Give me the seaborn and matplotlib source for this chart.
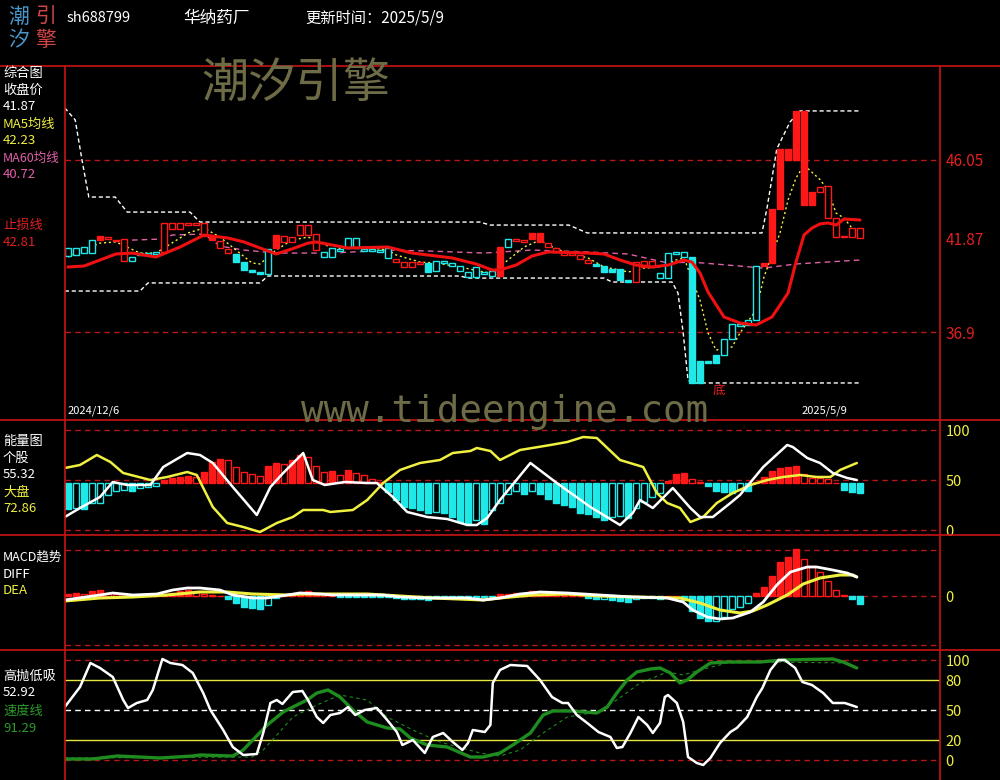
"""
华纳药厂 sh688799 - 潮汐引擎 综合图
"""

import matplotlib
matplotlib.use("Agg")
import numpy as np
import matplotlib.pyplot as plt
import seaborn as sns

sns.set_theme(style="dark", rc={"axes.facecolor": "black", "figure.facecolor": "black"})
plt.rcParams["font.family"] = ["Noto Sans CJK SC", "DejaVu Sans"]
plt.rcParams["axes.unicode_minus"] = False

# ---------------------------------------------
# Data
# ---------------------------------------------

stock_code = "sh688799"
stock_name = "华纳药厂"
update_time = "更新时间：2025/5/9"
first_date = "2024/12/6"
last_date = "2025/5/9"

open_px = [
    40.94, 41.00, 41.10, 41.10, 42.01, 41.85, 41.74, 40.68, 40.68, 41.00,
    41.00, 41.05, 41.16, 42.38, 42.38, 42.59, 42.59, 42.01, 41.95, 41.37,
    41.10, 41.05, 40.62, 40.20, 40.09, 39.98, 42.06, 41.69, 41.69, 42.06,
    42.06, 41.26, 40.89, 40.89, 41.21, 41.37, 41.37, 41.21, 41.21, 41.16,
    40.84, 40.62, 40.36, 40.36, 40.52, 40.57, 40.14, 40.57, 40.41, 40.14,
    39.83, 39.83, 39.98, 39.88, 41.42, 41.42, 41.74, 41.69, 42.17, 42.17,
    41.42, 41.16, 41.00, 41.00, 40.78, 40.57, 40.52, 40.41, 40.25, 40.25,
    39.67, 39.56, 40.36, 40.36, 39.77, 39.77, 41.05, 40.89, 40.89, 35.36,
    35.36, 35.68, 35.68, 36.53, 37.22, 37.27, 37.54, 40.57, 43.44, 46.64,
    46.64, 48.66, 48.66, 44.35, 44.35, 42.96, 41.95, 41.95, 41.95, 41.90,
]
close_px = [
    41.37, 41.37, 41.42, 41.79, 41.79, 41.95, 41.79, 41.85, 40.89, 41.10,
    41.10, 41.16, 42.70, 42.70, 42.70, 42.70, 42.70, 42.70, 41.79, 41.74,
    41.32, 40.62, 40.20, 40.09, 39.98, 41.32, 41.37, 42.01, 41.95, 42.59,
    42.59, 42.11, 41.16, 41.37, 41.32, 41.90, 41.90, 41.32, 41.32, 41.26,
    41.37, 40.78, 40.62, 40.62, 40.62, 40.09, 40.68, 40.68, 40.57, 40.41,
    40.09, 40.36, 40.09, 40.14, 39.88, 41.85, 41.85, 41.79, 41.85, 41.69,
    41.63, 41.37, 41.16, 41.10, 41.00, 40.73, 40.41, 40.09, 40.09, 39.67,
    39.56, 40.62, 40.68, 40.68, 40.04, 41.10, 41.16, 41.16, 34.19, 34.19,
    35.25, 35.25, 36.53, 37.33, 37.33, 37.54, 40.41, 40.41, 40.57, 43.44,
    46.05, 46.05, 43.66, 43.66, 44.61, 44.67, 42.96, 42.01, 42.43, 42.43,
]
# 1 = 多 (red), 0 = 空 (cyan)
signal = (
    [0] * 4 + [1] * 4 + [0] * 4 + [1] * 9 + [0] * 5 + [1] * 6 + [0] * 9
    + [1] * 4 + [0] * 9 + [1] + [0] + [1] * 10 + [0] * 5 + [1] * 3
    + [0] * 13 + [1] * 13
)

# upper / lower price band (bar index, price)
band_up_x = [-0.4, 0.9, 1.75, 2.6, 5.9, 7.4, 15.25, 16.5, 51.5, 52.75, 62.6, 64.9,
             86.75, 87.4, 88.6, 90.25, 91.5, 99]
band_up_v = [48.82, 48.18, 46.05, 44.08, 44.08, 43.28, 43.28, 42.75, 42.75, 42.59,
             42.59, 42.17, 42.17, 43.55, 46.64, 48.07, 48.66, 48.66]
band_lo_x = [-0.4, 9, 10, 24, 25, 49, 50, 67, 68, 75.5, 76.25, 76.9, 77.5, 78, 99]
band_lo_v = [39.08, 39.08, 39.51, 39.51, 39.88, 39.88, 39.77, 39.77, 39.56, 39.56,
             38.97, 36.85, 34.35, 34.19, 34.19]

ma5_x = [0, 4, 6, 9, 11, 15, 17, 19, 21, 23, 24, 26, 28, 30, 32, 33, 36, 40, 41, 44,
         46, 49, 52, 53, 55, 57, 59, 60, 62, 65, 67, 69, 70, 72, 74, 76, 77, 79, 80,
         81, 83, 84, 86, 87, 89, 90, 91, 92, 94, 95, 96, 97, 98, 99]
ma5_v = [40.89, 41.63, 41.69, 41.10, 41.10, 42.17, 42.43, 41.95, 41.26, 40.57,
         40.52, 41.26, 41.79, 41.95, 41.63, 41.26, 41.47, 41.26, 41.00, 40.62,
         40.57, 40.36, 40.09, 40.04, 40.73, 41.42, 41.79, 41.53, 41.16, 40.84,
         40.36, 40.20, 40.09, 40.30, 40.36, 40.73, 40.84, 38.60, 36.85, 35.94,
         36.10, 36.85, 38.07, 39.83, 42.17, 43.92, 45.09, 45.78, 45.01, 44.45,
         43.23, 42.96, 42.43, 42.22]

ma60_x = [8, 12, 13, 17, 19, 22, 26, 33, 40, 45, 52, 58, 65, 70, 75, 78, 87, 91, 99]
ma60_v = [41.79, 41.85, 42.06, 42.11, 41.47, 41.26, 41.10, 41.10, 41.26, 41.21,
          41.10, 41.26, 41.16, 41.05, 40.57, 40.62, 40.30, 40.52, 40.73]

stop_x = [0, 2, 4, 6, 8, 11, 14, 17, 20, 22, 25, 26, 28, 30, 31, 35, 40, 43, 48, 51,
          53, 54, 56, 58, 60, 65, 67, 69, 71, 73, 75, 77, 78, 79, 80, 82, 84, 86, 88,
          90, 91, 92, 93, 94, 95, 96, 97, 99]
stop_v = [40.36, 40.41, 40.73, 41.05, 41.10, 40.89, 41.42, 42.06, 41.90, 41.69,
          41.21, 41.05, 41.32, 41.63, 41.69, 41.37, 41.42, 41.10, 40.84, 40.52,
          40.20, 40.20, 40.46, 40.94, 41.16, 41.10, 41.05, 40.73, 40.46, 40.36,
          40.46, 40.73, 40.62, 40.04, 39.03, 37.70, 37.38, 37.27, 37.70, 38.97,
          40.62, 42.06, 42.43, 42.65, 42.70, 42.59, 42.91, 42.86]

# 能量图
energy_bars = [
    21, 22, 21, 27, 27, 35, 39, 40, 39, 42,
    43, 44, 50, 52, 53, 54, 53, 58, 68, 71,
    70, 63, 58, 56, 54, 64, 67, 66, 70, 75,
    73, 64, 58, 59, 55, 60, 57, 55, 51, 48,
    38, 30, 23, 22, 20, 17, 18, 17, 13, 8,
    7, 10, 6, 20, 27, 36, 39, 36, 39, 36,
    31, 27, 25, 23, 17, 16, 13, 10, 13, 14,
    12, 22, 28, 33, 37, 49, 56, 57, 51, 48,
    44, 39, 38, 37, 40, 39, 48, 53, 59, 62,
    63, 64, 56, 52, 52, 51, 47, 40, 38, 37,
]
energy_base = 47
stock_x = [-0.4, 1.5, 4, 5.6, 7.4, 10.3, 11.9, 14.9, 16.5, 18.1, 20.6, 23.6, 25.3,
           26.9, 29.4, 30.6, 32.1, 34.6, 37.4, 38.6, 40.6, 42.4, 44.9, 47.4, 49.9,
           51.1, 52.4, 54, 57.8, 61.1, 65.3, 69, 70.6, 71.5, 73.1, 75.6, 77.8, 79,
           80.6, 82.8, 84, 86.9, 89.9, 90.6, 92.4, 94, 95.6, 97.4, 98.6]
stock_v = [13, 22, 33, 48, 45, 45, 63, 77, 75, 67, 43, 15, 43, 57, 77, 50, 45, 48,
           47, 47, 33, 18, 13, 11, 5, 5, 12, 30, 67, 47, 23, 5, 17, 30, 22, 42, 22,
           13, 13, 27, 35, 63, 85, 83, 72, 67, 57, 52, 50]
market_x = [-0.4, 1.5, 3.6, 5.3, 6.9, 10.3, 12.4, 14.9, 16.1, 18.1, 19.9, 21.9, 24,
            26.1, 28.1, 29.4, 31.9, 32.8, 35.6, 37.4, 39.4, 41.5, 44, 46.5, 48.1,
            50.3, 51.1, 52.8, 54, 56.5, 60.3, 62.4, 64.4, 66.1, 69, 71.9, 73.6,
            74.9, 76.5, 77.8, 79.4, 81.1, 83.1, 85.3, 87.4, 89.4, 91.5, 93.6, 95.3,
            96.5, 98.6]
market_v = [62, 65, 75, 68, 57, 50, 53, 58, 55, 23, 7, 3, -2, 7, 13, 20, 20, 18, 20,
            30, 47, 60, 67, 70, 77, 79, 82, 79, 70, 80, 85, 88, 93, 92, 70, 63, 37,
            27, 22, 8, 13, 27, 37, 45, 50, 53, 55, 53, 53, 60, 67]

# MACD趋势
macd_bars = [
    0.04, 0.06, 0.04, 0.10, 0.12, 0.06, 0.04, 0.04, 0.02, 0.02,
    0.02, 0.02, 0.04, 0.06, 0.10, 0.12, 0.10, 0.04, 0.02, 0.00,
    -0.06, -0.14, -0.22, -0.24, -0.26, -0.18, -0.04, 0.00, 0.02, 0.08,
    0.10, 0.02, 0.00, 0.00, -0.02, -0.02, -0.02, -0.02, -0.02, -0.02,
    -0.02, -0.04, -0.06, -0.06, -0.06, -0.08, -0.04, -0.04, -0.02, -0.04,
    -0.06, -0.02, -0.02, -0.02, 0.04, 0.04, 0.06, 0.04, 0.10, 0.08,
    0.08, 0.04, 0.02, 0.02, 0.00, -0.04, -0.06, -0.06, -0.08, -0.10,
    -0.12, -0.06, -0.04, -0.04, -0.06, 0.01, 0.00, -0.08, -0.30, -0.44,
    -0.50, -0.50, -0.42, -0.26, -0.22, -0.14, 0.06, 0.18, 0.40, 0.68,
    0.78, 0.94, 0.74, 0.60, 0.48, 0.30, 0.12, 0.02, -0.06, -0.16,
]
diff_x = [-0.4, 4, 5.6, 8.1, 11.1, 13.1, 14.9, 16.5, 19, 20.6, 23.1, 24.9, 27.4, 29,
          31.5, 33.1, 39.4, 41.5, 44.9, 49.9, 51.9, 54, 56.5, 59, 62.4, 66.5, 70.6,
          74.9, 76.9, 78.1, 79.9, 81.5, 83.1, 85.3, 86.9, 88.6, 90.3, 92.4, 93.6,
          95.6, 97.4, 98.6]
diff_v = [-0.08, 0.02, 0.06, 0.02, 0.04, 0.12, 0.16, 0.16, 0.12, 0.02, -0.04, -0.04,
          0.02, 0.06, 0.04, 0.02, 0.02, -0.02, -0.04, -0.04, -0.08, -0.04, 0.04,
          0.08, 0.06, 0.02, -0.02, -0.04, -0.12, -0.28, -0.42, -0.46, -0.44, -0.32,
          -0.12, 0.22, 0.48, 0.58, 0.58, 0.52, 0.46, 0.38]
dea_x = [-0.4, 4, 8.1, 12.4, 16.5, 19.9, 23.1, 27.4, 29, 37.4, 41.5, 45.6, 51.9, 54,
         58.1, 62.4, 66.5, 70.6, 76.5, 79, 81.5, 84, 85.6, 87.4, 89.9, 91.9, 94,
         96.5, 98.1, 98.6]
dea_v = [-0.10, -0.04, -0.02, 0.02, 0.08, 0.08, 0.04, 0.02, 0.04, 0.04, 0.00, -0.04,
         -0.08, -0.04, 0.02, 0.04, 0.00, -0.02, -0.04, -0.14, -0.28, -0.34, -0.30,
         -0.18, 0.02, 0.24, 0.36, 0.42, 0.42, 0.38]

# 高抛低吸
hl_x = [-0.4, 1.5, 2.8, 4, 5.6, 6.9, 7.5, 8.6, 9.9, 10.6, 11.8, 12.8, 14.3, 15.6,
        16.9, 17.8, 19.4, 20.6, 21.9, 23.6, 24.4, 25.3, 26.1, 26.8, 28.1, 29.3, 30,
        31.1, 31.9, 32.8, 34, 35, 35.9, 37.1, 38.6, 39.9, 41.1, 41.8, 43.1, 44.6,
        45.6, 46.9, 48.1, 49.3, 50, 50.6, 52.1, 52.8, 53.1, 54, 55.3, 57.4, 59,
        60.5, 61.8, 62.5, 63.6, 64.9, 66.3, 67.8, 68.6, 69.3, 70.3, 71.3, 72.4,
        73.1, 74, 74.6, 75, 76.1, 76.9, 77.5, 78.6, 79.4, 80.3, 81.5, 82.8, 83.6,
        84.9, 86.1, 86.8, 87.8, 88.8, 89.6, 90.9, 91.8, 93, 94.4, 95.6, 97.1, 98.6]
hl_v = [53, 73, 97, 92, 83, 60, 52, 57, 60, 70, 101, 97, 95, 87, 67, 50, 30, 13, 5,
        6, 27, 57, 60, 56, 68, 69, 60, 43, 37, 45, 47, 53, 45, 50, 52, 40, 28, 15,
        20, 7, 23, 27, 18, 10, 17, 30, 28, 35, 77, 90, 95, 94, 80, 63, 57, 57, 45,
        37, 28, 23, 12, 13, 27, 43, 35, 27, 37, 63, 65, 57, 38, 3, -3, -5, 2, 17,
        28, 32, 43, 63, 72, 90, 100, 100, 92, 78, 75, 67, 57, 57, 53]
speed_x = [-0.4, 3.1, 6.1, 8.9, 11.5, 15.6, 16.5, 20.6, 21.9, 23.1, 24.9, 26.9, 28.1,
           29.9, 31.1, 32.5, 34, 35.6, 37.4, 39.9, 41.5, 42.8, 44.9, 47.4, 50.3,
           51.9, 54, 55.6, 57.8, 59.4, 60.6, 63.1, 66.1, 67.4, 68.6, 69.9, 71.1,
           72.8, 74, 75.3, 76.5, 77.4, 78.6, 80.3, 82.4, 86.5, 89.4, 95.6, 96.9, 98.6]
speed_v = [1, 1, 4, 3, 2, 4, 5, 4, 10, 20, 35, 48, 53, 60, 67, 70, 63, 50, 38, 32, 31,
           22, 15, 13, 3, 3, 7, 15, 27, 45, 49, 49, 47, 53, 67, 80, 88, 91, 92, 87,
           77, 80, 88, 97, 98, 98, 100, 101, 98, 92]
speed_ma_x = [-0.4, 23, 24.4, 26.1, 28.1, 31.1, 34, 37.4, 39.9, 43.1, 46.5, 51.5, 54,
              56.5, 59.4, 62.4, 66.1, 68.6, 71.5, 74.9, 76.9, 79, 82.4, 87.4, 97.8]
speed_ma_v = [2, 3, 10, 25, 43, 55, 65, 60, 43, 30, 18, 7, 4, 10, 27, 43, 48, 60, 77,
              88, 85, 90, 97, 98, 97]

# ---------------------------------------------
# Style
# ---------------------------------------------

RED = "#ff1818"
CYAN = "#1ee8e8"
BORDER = "#c81414"
GRID_RED = "#b41818"
YELLOW = "#f0f040"
PINK = "#e060a8"
GREEN = "#1e8c1e"
OLIVE = "#6e6c46"


def fx(px):
    return px / 1000


def fy(py):
    return 1 - py / 780


def draw_line(ax, xs, vs, **kws):
    sns.lineplot(x=xs, y=vs, ax=ax, estimator=None, sort=False, legend=False, **kws)


def draw_bars(ax, values, base=0.0):
    # filled when the bar grows away from the base, hollow when it shrinks
    vals = np.asarray(values, dtype=float)
    prev = np.r_[base, vals[:-1]]
    face, edge = [], []
    for v, p in zip(vals, prev):
        colour = RED if v >= base else CYAN
        grows = (v > p) if v >= base else (v < p)
        edge.append(colour)
        face.append(colour if grows else "black")
    ax.bar(np.arange(len(vals)), vals - base, bottom=base, width=0.78,
           color=face, edgecolor=edge, linewidth=1.0, zorder=3)


fig = plt.figure(figsize=(10, 7.8), dpi=100, facecolor="black")

L, W = fx(65), fx(875)
ax_main = fig.add_axes([L, fy(420), W, 354 / 780])
ax_eng = fig.add_axes([L, fy(535), W, 115 / 780])
ax_macd = fig.add_axes([L, fy(650), W, 115 / 780])
ax_kdj = fig.add_axes([L, fy(780), W, 130 / 780])

for ax in [ax_main, ax_eng, ax_macd, ax_kdj]:
    ax.set_facecolor("black")
    ax.set_xlim(-0.375, 109)
    ax.set_xticks([])
    ax.set_xlabel("")
    ax.set_ylabel("")
    for s in ax.spines.values():
        s.set_visible(False)
    ax.yaxis.tick_right()
    ax.tick_params(axis="y", length=0, pad=4, labelsize=10.5)
    ax.grid(False)

# ---------------------------------------------
# 综合图
# ---------------------------------------------

ax_main.set_ylim(32.22, 51.05)
for lvl in [46.05, 36.9]:
    ax_main.axhline(lvl, color=GRID_RED, lw=1, ls=(0, (4, 3)), zorder=1)

draw_line(ax_main, band_up_x, band_up_v, color="white", lw=1, linestyle=(0, (3, 2)))
draw_line(ax_main, band_lo_x, band_lo_v, color="white", lw=1, linestyle=(0, (3, 2)))
draw_line(ax_main, ma60_x, ma60_v, color=PINK, lw=1, linestyle=(0, (4, 3)))
draw_line(ax_main, ma5_x, ma5_v, color=YELLOW, lw=1, linestyle=(0, (1.5, 2)))

o = np.array(open_px)
c = np.array(close_px)
lo = np.minimum(o, c)
hi = np.maximum(o, c)
colours = [RED if s == 1 else CYAN for s in signal]
faces = [col if cc < oo else "black" for col, oo, cc in zip(colours, o, c)]
ax_main.bar(np.arange(len(o)), np.maximum(hi - lo, 0.03), bottom=lo, width=0.8,
            color=faces, edgecolor=colours, linewidth=1.0, zorder=3)

draw_line(ax_main, stop_x, stop_v, color="#f01010", lw=2.2, zorder=5)

ax_main.set_yticks([46.05, 41.87, 36.9])
ax_main.set_yticklabels(["46.05", "41.87", "36.9"], color="#e02020", fontsize=11)

# ---------------------------------------------
# 能量图
# ---------------------------------------------

ax_eng.set_ylim(-5, 110)
for lvl in [100, 50, 0]:
    ax_eng.axhline(lvl, color=GRID_RED, lw=1, ls=(0, (4, 3)), zorder=1)
draw_bars(ax_eng, energy_bars, base=energy_base)
draw_line(ax_eng, market_x, market_v, color=YELLOW, lw=1.8, zorder=4)
draw_line(ax_eng, stock_x, stock_v, color="white", lw=1.8, zorder=5)
ax_eng.set_yticks([100, 50, 0])
ax_eng.set_yticklabels(["100", "50", "0"], color=YELLOW)

# ---------------------------------------------
# MACD趋势
# ---------------------------------------------

ax_macd.set_ylim(-1.08, 1.22)
for lvl in [0.92, 0.0, -0.98]:
    ax_macd.axhline(lvl, color=GRID_RED, lw=1, ls=(0, (4, 3)), zorder=1)
draw_bars(ax_macd, macd_bars, base=0.0)
draw_line(ax_macd, dea_x, dea_v, color=YELLOW, lw=2.2, zorder=4)
draw_line(ax_macd, diff_x, diff_v, color="white", lw=2.0, zorder=5)
ax_macd.set_yticks([0])
ax_macd.set_yticklabels(["0"], color=YELLOW)

# ---------------------------------------------
# 高抛低吸
# ---------------------------------------------

ax_kdj.set_ylim(-20, 110)
for lvl in [100, 0]:
    ax_kdj.axhline(lvl, color=GRID_RED, lw=1, ls=(0, (4, 3)), zorder=1)
for lvl in [80, 20]:
    ax_kdj.axhline(lvl, color="#e6e640", lw=1, zorder=1)
ax_kdj.axhline(50, color="white", lw=1, ls=(0, (4, 3)), zorder=1)
draw_line(ax_kdj, speed_ma_x, speed_ma_v, color=GREEN, lw=0.8, linestyle=(0, (3, 3)))
draw_line(ax_kdj, speed_x, speed_v, color=GREEN, lw=2.4, zorder=4)
draw_line(ax_kdj, hl_x, hl_v, color="white", lw=1.8, zorder=5)
ax_kdj.set_yticks([100, 80, 50, 20, 0])
ax_kdj.set_yticklabels(["100", "80", "50", "20", "0"], color=YELLOW)

# ---------------------------------------------
# Frame lines
# ---------------------------------------------

for py in [66, 420, 535, 650]:
    fig.add_artist(plt.Line2D([0, 1], [fy(py), fy(py)], color=BORDER, lw=1.2,
                              transform=fig.transFigure))
for px in [65, 940]:
    fig.add_artist(plt.Line2D([fx(px), fx(px)], [0, fy(66)], color=BORDER, lw=1.2,
                              transform=fig.transFigure))

# ---------------------------------------------
# Texts
# ---------------------------------------------

def label(px, py, s, color="white", size=9.5, **kws):
    fig.text(fx(px), fy(py), s, color=color, fontsize=size, ha="left", va="center", **kws)


# logo
label(8, 17, "潮", color="#4a96c8", size=15)
label(35, 17, "引", color="#d04444", size=15)
label(8, 40, "汐", color="#4a96c8", size=15)
label(35, 40, "擎", color="#d04444", size=15)

label(67, 18, stock_code, size=10.5)
label(183, 18, stock_name, size=12)
label(305, 18, update_time, size=11)

# watermarks
fig.text(fx(296), fy(84), "潮汐引擎", color=OLIVE, fontsize=34, ha="center", va="center")
fig.text(fx(505), fy(422), "www.tideengine.com", color=OLIVE, fontsize=27,
         ha="center", va="baseline", family="DejaVu Sans Mono")

# main panel legend
label(3, 73, "综合图")
label(3, 90, "收盘价")
label(3, 107, "41.87")
label(3, 124, "MA5均线", color=YELLOW)
label(3, 141, "42.23", color=YELLOW)
label(3, 158, "MA60均线", color=PINK, size=9)
label(3, 175, "40.72", color=PINK)
label(3, 225, "止损线", color="#e02020")
label(3, 242, "42.81", color="#e02020")

label(68, 411, first_date, size=8)
label(802, 411, last_date, size=8)
label(713, 390, "底", color="#e02020", size=9)

label(3, 441, "能量图")
label(3, 458, "个股")
label(3, 475, "55.32")
label(3, 492, "大盘", color=YELLOW)
label(3, 509, "72.86", color=YELLOW)

label(3, 557, "MACD趋势", size=9)
label(3, 574, "DIFF")
label(3, 591, "DEA", color=YELLOW)

label(3, 676, "高抛低吸")
label(3, 693, "52.92")
label(3, 711, "速度线", color="#2a9a2a")
label(3, 728, "91.29", color="#2a9a2a")

fig.savefig("out.png", dpi=100, facecolor="black")
plt.close(fig)
